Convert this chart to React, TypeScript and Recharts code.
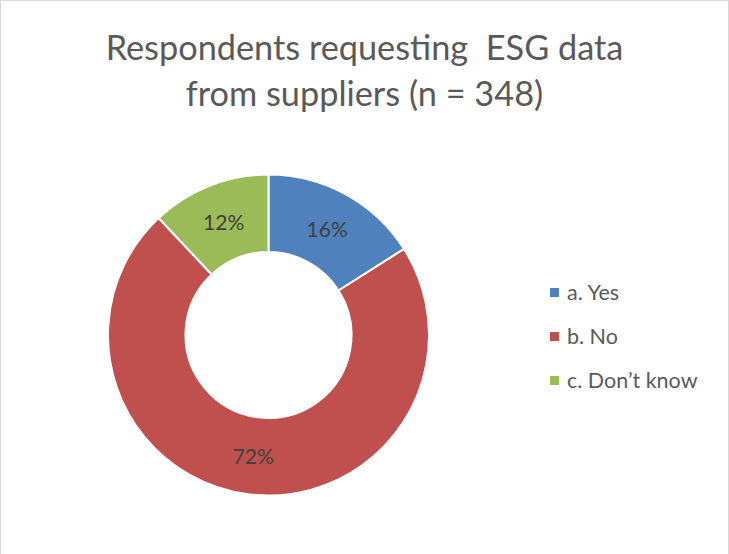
import React from "react";
import { PieChart, Pie, Cell, Legend } from "recharts";

const categories = ["a. Yes", "b. No", "c. Don\u2019t know"];
const shares = [16, 72, 12];
const colors = ["#4F81BD", "#C0504D", "#9BBB59"];
const titleLines = ["Respondents requesting  ESG data", "from suppliers (n = 348)"];

const data = categories.map((name, i) => ({ name, value: shares[i] }));

const FONT = "Lato, 'Open Sans', sans-serif";
const RAD = Math.PI / 180;

const renderLabel = (props: any) => {
  const { cx, cy, midAngle, innerRadius, outerRadius, value } = props;
  const r = (innerRadius + outerRadius) / 2;
  const x = cx + r * Math.cos(-midAngle * RAD);
  const y = cy + r * Math.sin(-midAngle * RAD);
  return (
    <text
      x={x}
      y={y}
      fill="#404040"
      fontSize={21}
      fontFamily={FONT}
      textAnchor="middle"
      dominantBaseline="central"
    >
      {`${value}%`}
    </text>
  );
};

const LegendContent = () => (
  <div style={{ fontFamily: FONT }}>
    {data.map((d, i) => (
      <div
        key={d.name}
        style={{
          display: "flex",
          alignItems: "center",
          height: 44,
          color: "#595959",
          fontSize: 21.5,
          whiteSpace: "nowrap",
        }}
      >
        <span
          style={{
            display: "inline-block",
            width: 9,
            height: 9,
            background: colors[i],
            marginRight: 8,
          }}
        />
        {d.name}
      </div>
    ))}
  </div>
);

export default function App() {
  return (
    <div
      style={{
        position: "absolute",
        left: 0,
        top: 0,
        width: 729,
        height: 554,
        background: "#fff",
        boxSizing: "border-box",
        borderLeft: "1px solid #D9D9D9",
        borderTop: "1px solid #D9D9D9",
        borderRight: "1px solid #D9D9D9",
        overflow: "hidden",
      }}
    >
      <div
        style={{
          position: "absolute",
          left: 0,
          top: 23,
          width: 727,
          textAlign: "center",
          fontFamily: FONT,
          fontSize: 34.3,
          lineHeight: "46px",
          color: "#595959",
          whiteSpace: "pre",
        }}
      >
        {titleLines.map((t) => (
          <div key={t}>{t}</div>
        ))}
      </div>
      <PieChart
        width={727}
        height={553}
        margin={{ top: 0, right: 0, bottom: 0, left: 0 }}
        style={{ position: "absolute", left: -1, top: -1 }}
      >
        <Pie
          data={data}
          dataKey="value"
          nameKey="name"
          cx={268.5}
          cy={335}
          innerRadius={83}
          outerRadius={160.5}
          startAngle={90}
          endAngle={-270}
          stroke="#FFFFFF"
          strokeWidth={2}
          label={renderLabel}
          labelLine={false}
          isAnimationActive={false}
        >
          {data.map((d, i) => (
            <Cell key={d.name} fill={colors[i]} />
          ))}
        </Pie>
        <Legend
          layout="vertical"
          content={<LegendContent />}
          wrapperStyle={{ position: "absolute", left: 550, top: 270, width: 175 }}
        />
      </PieChart>
    </div>
  );
}
